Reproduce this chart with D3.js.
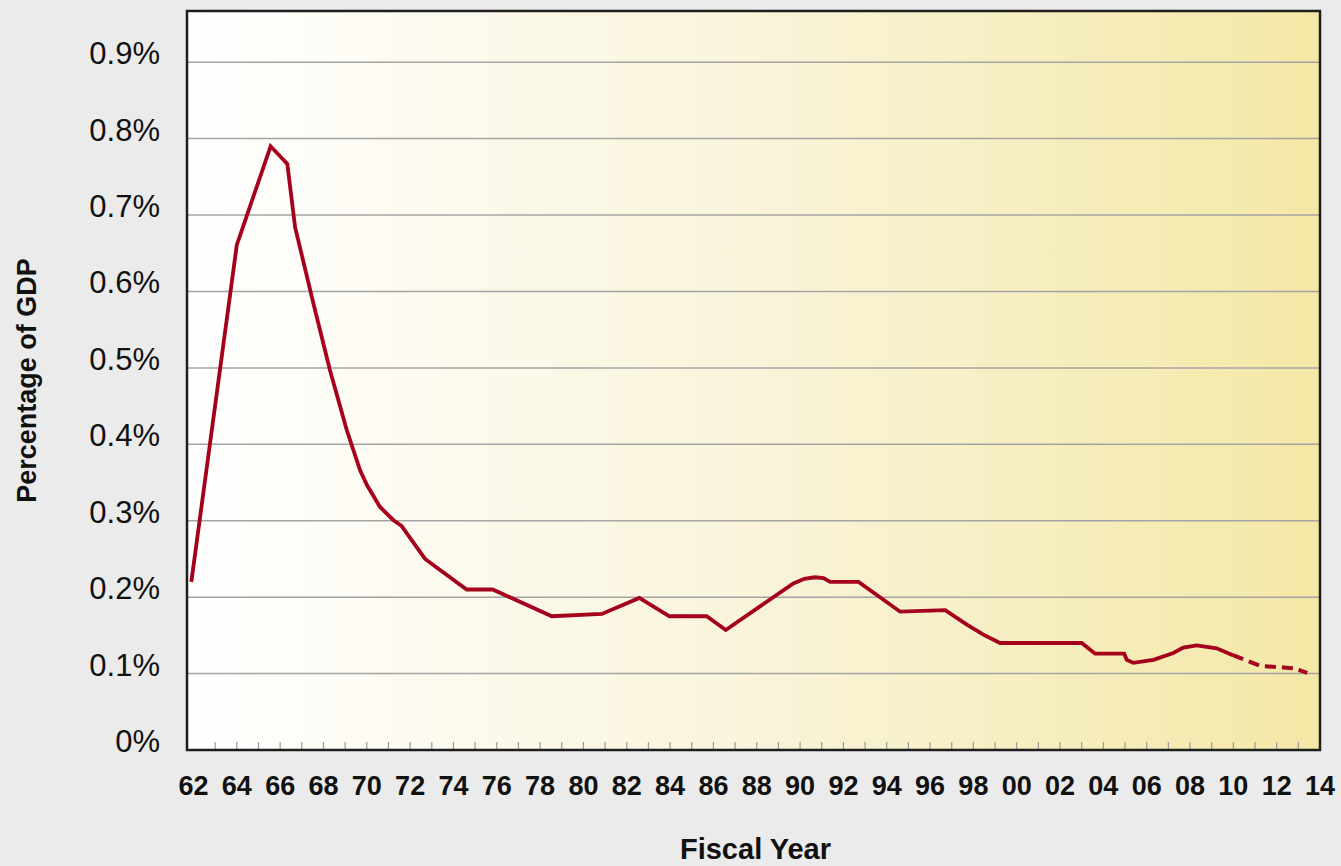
<!DOCTYPE html>
<html>
<head>
<meta charset="utf-8">
<script src="https://cdn.jsdelivr.net/npm/d3@7"></script>
<style>
  html, body { margin: 0; padding: 0; background: #ebebeb; }
  svg { display: block; }
  text { font-family: "Liberation Sans", Arial, Helvetica, sans-serif; fill: #111; }
</style>
</head>
<body>
<svg id="chart" width="1341" height="866"></svg>
<script>
// ---- Data ----
// Actual outlays (fiscal year, % of GDP)
const actualYears = [1961.9, 1964.0, 1965.56, 1966.33, 1966.69, 1967.53, 1968.3, 1969.07, 1969.69, 1970.0,
  1970.61, 1971.22, 1971.61, 1972.69, 1974.61, 1975.81, 1978.54, 1980.85, 1982.58, 1983.97,
  1985.69, 1986.57, 1989.69, 1990.2, 1990.69, 1991.08, 1991.39, 1992.7, 1994.62, 1996.7,
  1997.7, 1998.46, 1999.23, 2003.0, 2003.62, 2004.96, 2005.08, 2005.38, 2006.31, 2007.23,
  2007.69, 2008.31, 2009.23, 2009.98];
const actualValues = [0.220, 0.661, 0.790, 0.767, 0.684, 0.585, 0.497, 0.419, 0.366, 0.347,
  0.318, 0.301, 0.293, 0.250, 0.210, 0.210, 0.175, 0.178, 0.199, 0.175,
  0.175, 0.157, 0.218, 0.224, 0.226, 0.225, 0.220, 0.220, 0.181, 0.183,
  0.164, 0.151, 0.140, 0.140, 0.126, 0.126, 0.118, 0.114, 0.118, 0.127,
  0.134, 0.137, 0.133, 0.124];
// Projected (dashed)
const projYears = [2009.98, 2011.25, 2012.33, 2012.78, 2013.41];
const projValues = [0.124, 0.110, 0.108, 0.107, 0.101];

// Axis ticks
const yTicks = [0, 0.1, 0.2, 0.3, 0.4, 0.5, 0.6, 0.7, 0.8, 0.9];
const yTickLabels = ["0%", "0.1%", "0.2%", "0.3%", "0.4%", "0.5%", "0.6%", "0.7%", "0.8%", "0.9%"];
const xLabelYears = [1962, 1964, 1966, 1968, 1970, 1972, 1974, 1976, 1978, 1980, 1982, 1984, 1986, 1988,
  1990, 1992, 1994, 1996, 1998, 2000, 2002, 2004, 2006, 2008, 2010, 2012, 2014];
const xTickLabels = ["62", "64", "66", "68", "70", "72", "74", "76", "78", "80", "82", "84", "86", "88",
  "90", "92", "94", "96", "98", "00", "02", "04", "06", "08", "10", "12", "14"];
const minorTickYears = d3.range(1963, 2014);

const yTitle = "Percentage of GDP";
const xTitle = "Fiscal Year";

// ---- Layout ----
const plot = { left: 187, right: 1320, top: 11, bottom: 750 };
const svg = d3.select("#chart");

const x = d3.scaleLinear().domain([1961.7, 2014]).range([plot.left, plot.right]);
const y = d3.scaleLinear().domain([0, 0.967]).range([plot.bottom, plot.top]);

// Gradient background
const defs = svg.append("defs");
const grad = defs.append("linearGradient").attr("id", "bg").attr("x1", "0").attr("x2", "1").attr("y1", "0").attr("y2", "0");
grad.append("stop").attr("offset", "0%").attr("stop-color", "#ffffff");
grad.append("stop").attr("offset", "50%").attr("stop-color", "#f9f4da");
grad.append("stop").attr("offset", "100%").attr("stop-color", "#f4e8a6");

svg.append("rect")
  .attr("x", plot.left).attr("y", plot.top)
  .attr("width", plot.right - plot.left).attr("height", plot.bottom - plot.top)
  .attr("fill", "url(#bg)");

// Gridlines
svg.append("g").selectAll("line")
  .data(yTicks.filter(d => d > 0))
  .join("line")
  .attr("x1", plot.left).attr("x2", plot.right)
  .attr("y1", d => y(d)).attr("y2", d => y(d))
  .attr("stroke", "#a4a4a4").attr("stroke-width", 1.5);

// Minor ticks along bottom
svg.append("g").selectAll("line")
  .data(minorTickYears)
  .join("line")
  .attr("x1", d => x(d)).attr("x2", d => x(d))
  .attr("y1", plot.bottom).attr("y2", plot.bottom - 8)
  .attr("stroke", "#9a9a9a").attr("stroke-width", 1.2);

// Border
svg.append("rect")
  .attr("x", plot.left).attr("y", plot.top)
  .attr("width", plot.right - plot.left).attr("height", plot.bottom - plot.top)
  .attr("fill", "none").attr("stroke", "#1e1e1e").attr("stroke-width", 2.5);

// Y labels
svg.append("g").selectAll("text")
  .data(yTicks)
  .join("text")
  .attr("x", 160).attr("y", d => y(d) + 2)
  .attr("text-anchor", "end")
  .style("font-size", "31px")
  .text((d, i) => yTickLabels[i]);

// X labels
svg.append("g").selectAll("text")
  .data(xLabelYears)
  .join("text")
  .attr("x", d => x(d)).attr("y", 795)
  .attr("text-anchor", "middle")
  .style("font-size", "27px").style("font-weight", "bold")
  .text((d, i) => xTickLabels[i]);

// Titles
svg.append("text")
  .attr("transform", `translate(36, ${(plot.top + plot.bottom) / 2}) rotate(-90)`)
  .attr("text-anchor", "middle")
  .style("font-size", "27px").style("font-weight", "bold")
  .text(yTitle);

svg.append("text")
  .attr("x", (plot.left + plot.right) / 2 + 2).attr("y", 859)
  .attr("text-anchor", "middle")
  .style("font-size", "29px").style("font-weight", "bold")
  .text(xTitle);

// Lines
const line = d3.line().x(d => x(d[0])).y(d => y(d[1])).curve(d3.curveLinear);
const actual = actualYears.map((yr, i) => [yr, actualValues[i]]);
const proj = projYears.map((yr, i) => [yr, projValues[i]]);

svg.append("path").datum(actual)
  .attr("d", line).attr("fill", "none")
  .attr("stroke", "#a5001c").attr("stroke-width", 3.8)
  .attr("stroke-linejoin", "miter").attr("stroke-linecap", "butt");

svg.append("path").datum(proj)
  .attr("d", line).attr("fill", "none")
  .attr("stroke", "#a5001c").attr("stroke-width", 4)
  .attr("stroke-dasharray", "11,6");
</script>
</body>
</html>
